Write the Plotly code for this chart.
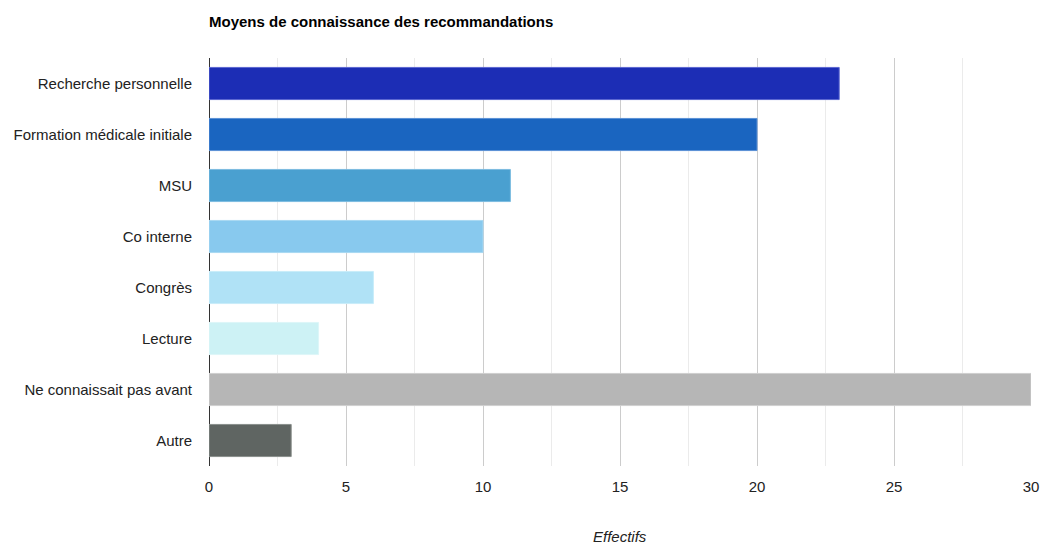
import plotly.graph_objects as go

categories = ["Recherche personnelle", "Formation médicale initiale", "MSU", "Co interne",
              "Congrès", "Lecture", "Ne connaissait pas avant", "Autre"]
values = [23, 20, 11, 10, 6, 4, 30, 3]
colors = ["#1c2db5", "#1a65c0", "#4aa0d0", "#88c9ee", "#b0e2f6", "#cdf2f5", "#b6b6b6", "#5f6562"]
line_colors = ["#5a66d0", "#5a90d6", "#7cbce0", "#a8d8f2", "#c8ecf9", "#ddf6f8", "#cfcfcf", "#8a8f8c"]
x_ticks = [0, 5, 10, 15, 20, 25, 30]

W, H = 1040, 546

fig = go.Figure(go.Bar(
    x=values, y=categories, orientation="h",
    marker=dict(color=colors, line=dict(color=line_colors, width=1)),
    hoverinfo="x+y",
))

fig.update_layout(
    width=W, height=H,
    margin=dict(l=209, r=9, t=58, b=80, autoexpand=False),
    paper_bgcolor="white", plot_bgcolor="white",
    font=dict(family="Liberation Sans, Arial, sans-serif", size=15, color="#222"),
    bargap=0.37,
    showlegend=False,
    title=dict(text="<b>Moyens de connaissance des recommandations</b>",
               x=209/W, xanchor="left", xref="container",
               y=1-22/H, yanchor="middle", yref="container",
               font=dict(size=15, color="#000")),
    xaxis=dict(range=[0, 30], tickvals=x_ticks, showgrid=True, gridcolor="#cccccc",
               gridwidth=1, zeroline=True, zerolinecolor="#333333", zerolinewidth=1,
               minor=dict(dtick=2.5, tick0=0, showgrid=True, gridcolor="#ebebeb"),
               ticks="", ticklabelstandoff=10, ticklabeloverflow="allow",
               tickfont=dict(size=15, color="#222"),
               fixedrange=True, automargin=False),
    yaxis=dict(autorange="reversed", ticks="", ticklabelstandoff=16, automargin=False,
               tickfont=dict(size=15, color="#222"), showgrid=False),
    annotations=[dict(text="<i>Effectifs</i>", x=0.5, xref="paper",
                      y=-(536-466)/408, yref="paper", yanchor="middle",
                      showarrow=False, font=dict(size=15, color="#222"))],
)

fig.write_html("out.html", config={"displayModeBar": False},
               post_script="document.body.style.margin='0';document.body.style.overflow='hidden';")
